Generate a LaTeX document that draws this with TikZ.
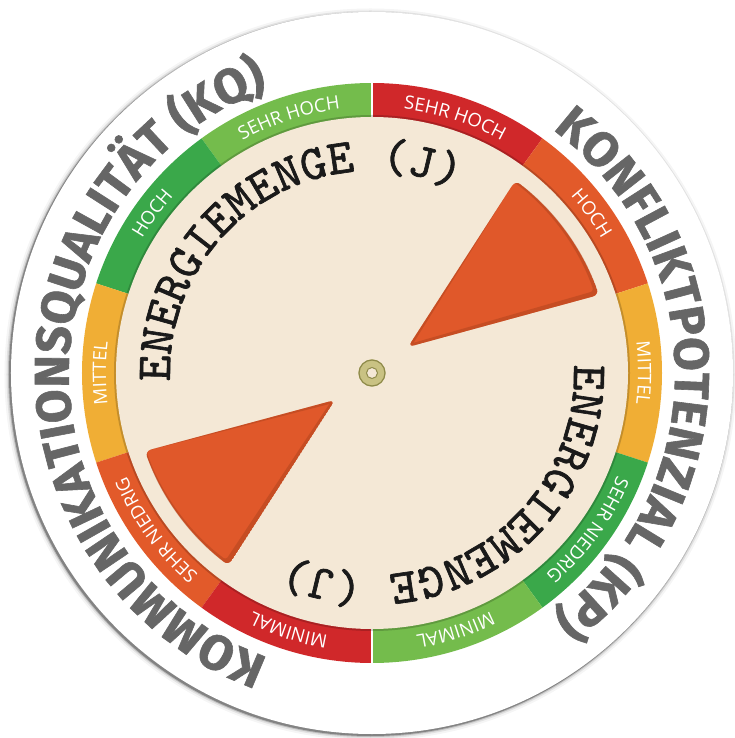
\documentclass[tikz,border=0pt]{standalone}
\usepackage{fontspec}
\usetikzlibrary{decorations.text}
\newfontfamily\kqfont{Fira Sans}[FakeBold=1.2]
\newfontfamily\ringfont{Open Sans}
\newfontfamily\ergfont{lmmono10-regular}[Extension=.otf, FakeBold=1.3]
\definecolor{rred}{HTML}{D0282A}
\definecolor{rorange}{HTML}{E25A2A}
\definecolor{ryellow}{HTML}{F0AE35}
\definecolor{rgreen}{HTML}{3AA84A}
\definecolor{rlight}{HTML}{74BC4C}
\definecolor{beige}{HTML}{F4E8D6}
\definecolor{winfill}{HTML}{E0582A}
\definecolor{winshade}{HTML}{A8401C}
\definecolor{kqgray}{HTML}{666666}
\definecolor{ink}{HTML}{1A1A1A}
\definecolor{grommet}{HTML}{C9C283}
\definecolor{grommetdark}{HTML}{8E8A4A}
\tikzset{
  ringlabel/.style={decorate, decoration={text along path, text/.expanded=#1,
      text align=center, text color=white}},
  arctext/.style={decorate, decoration={text along path, text={#1},
      text align=center}},
}
\begin{document}
\begin{tikzpicture}[x=1pt,y=1pt]
        \useasboundingbox (-372,-365) rectangle (362,373);
        \fill[white] (-372,-365) rectangle (362,373);
        \coordinate (O) at (0,0); % Drehpunkt
        \coordinate (W1) at (36,26); % Spitze oberes Fenster
        \coordinate (W2) at (-37,-27);

        % weisse Scheibe mit Schatten
        \foreach \r/\o in {366/0.04,364/0.08,362.5/0.16,361.5/0.3}
            \fill[black, opacity=\o] (-1.5,-1.5) circle (\r);
        \fill[white] (O) circle (361);

        % Farbring
        \foreach \a/\col/\txt in {72/rred/SEHR HOCH, 36/rorange/HOCH, 0/ryellow/MITTEL,
                -36/rgreen/SEHR NIEDRIG, -72/rlight/MINIMAL, 108/rlight/SEHR HOCH,
                144/rgreen/HOCH, 180/ryellow/MITTEL, 216/rorange/SEHR NIEDRIG, 252/rred/MINIMAL}
        {
            \fill[\col] (\a+18:255) arc[start angle=\a+18, end angle=\a-18, radius=255]
                -- (\a-18:290) arc[start angle=\a-18, end angle=\a+18, radius=290] -- cycle;
            \begin{scope}
                \ringfont\fontsize{18.5}{18.5}\selectfont
                \path[ringlabel=\txt] (\a+17:266) arc[start angle=\a+17, end angle=\a-17, radius=266];
            \end{scope}
        }
        \draw[white, line width=2.5] (90:254) -- (90:291);
        \draw[white, line width=2.5] (270:254) -- (270:291);

        % Drehscheibe
        \fill[black, opacity=0.18] (O) circle (258);
        \fill[beige] (O) circle (256);

        % Fenster
        \foreach \w/\s/\e in {W1/53.3/19, W2/233.3/199}
        {
            \begin{scope}
                \clip[rounded corners=6] (\w) -- (\s:240) arc[start angle=\s, end angle=\e, radius=240] -- cycle;
                \fill[winfill] (\w) -- (\s:240) arc[start angle=\s, end angle=\e, radius=240] -- cycle;
                \draw[winshade, opacity=0.45, line width=5, rounded corners=6, shift={(-2,2)}]
                    (\w) -- (\s:240) arc[start angle=\s, end angle=\e, radius=240] -- cycle;
            \end{scope}
        }

        % Beschriftung aussen
        \begin{scope}
            \kqfont\bfseries\fontsize{49}{49}\selectfont
            \path[arctext={KOMMUNIKATIONSQUALITÄT (KQ)}, decoration={text color=kqgray}]
                (250:303) arc[start angle=250, end angle=110, radius=303];
            \path[arctext={KONFLIKTPOTENZIAL (KP)}, decoration={text color=kqgray}]
                (53:303) arc[start angle=53, end angle=-53, radius=303];
        \end{scope}

        % Energiemenge
        \begin{scope}
            \ergfont\fontsize{49}{49}\selectfont
            \path[arctext={ENERGIEMENGE (J)}, decoration={text color=ink}]
                (182:202) arc[start angle=182, end angle=66, radius=202];
            \path[arctext={ENERGIEMENGE (J)}, decoration={text color=ink}]
                (2:202) arc[start angle=2, end angle=-114, radius=202];
        \end{scope}

        % Oese
        \fill[grommet] (O) circle (13.5);
        \draw[grommetdark, line width=1.2] (O) circle (13);
        \fill[beige] (O) circle (5.5);
        \draw[grommetdark, line width=1] (O) circle (5.5);
\end{tikzpicture}
\end{document}
